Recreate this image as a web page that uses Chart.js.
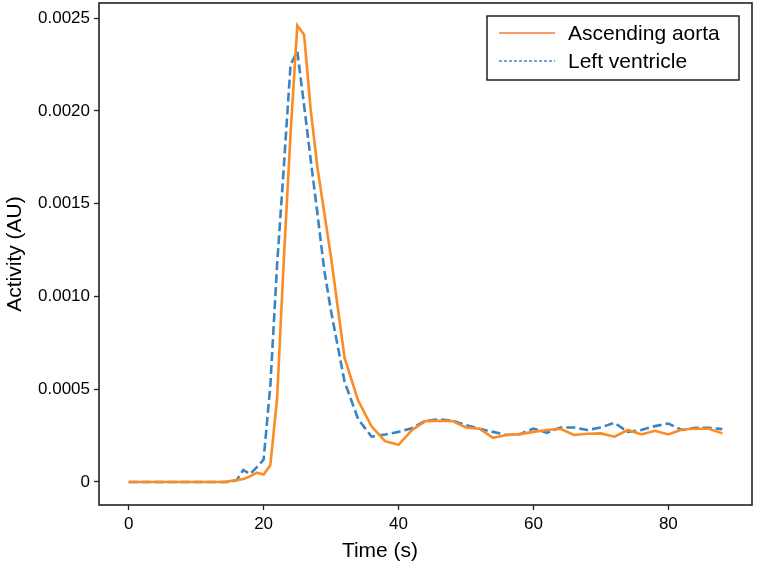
<!DOCTYPE html>
<html>
<head>
<meta charset="utf-8">
<script src="https://cdn.jsdelivr.net/npm/chart.js@4/dist/chart.umd.min.js"></script>
<style>
  html, body { margin: 0; padding: 0; background: #ffffff; }
  #wrap { width: 757px; height: 570px; position: relative; }
</style>
</head>
<body>
<div id="wrap"><canvas id="c" width="757" height="570"></canvas></div>
<script>
// ---- data ----
const times = [0, 1, 2, 3, 4, 5, 6, 7, 8, 9, 10, 11, 12, 13, 14, 15, 16, 17, 18, 19, 20,
  21, 22, 23, 24, 25, 26, 27, 28, 29, 30, 32, 34, 36, 38, 40, 42, 44, 46, 48, 50,
  52, 54, 56, 58, 60, 62, 64, 66, 68, 70, 72, 74, 76, 78, 80, 82, 84, 86, 88];

const ascendingAorta = [0, 0, 0, 0, 0, 0, 0, 0, 0, 0, 0, 0, 0, 0, 0, 0.000005, 0.00001, 0.000016, 0.00003, 0.00005, 0.00004,
  0.00009, 0.00045, 0.00120, 0.00188, 0.00246, 0.00241, 0.00200, 0.00169, 0.00145, 0.00121, 0.00067, 0.00044, 0.00030, 0.00022, 0.00020, 0.00028, 0.000328, 0.00033, 0.000328, 0.000294,
  0.000287, 0.000238, 0.000253, 0.000258, 0.00027, 0.00028, 0.000287, 0.000253, 0.00026, 0.000262, 0.000244, 0.00028, 0.000256, 0.000276, 0.000256, 0.000283, 0.000287, 0.000287, 0.000262];

const leftVentricle = [0, 0, 0, 0, 0, 0, 0, 0, 0, 0, 0, 0, 0, 0, 0, 0, 0.00001, 0.000065, 0.000043, 0.00008, 0.00012,
  0.00052, 0.00117, 0.00170, 0.00225, 0.00232, 0.00203, 0.00173, 0.00144, 0.00114, 0.00092, 0.00054, 0.00034, 0.000244, 0.000256, 0.00027, 0.00029, 0.00033, 0.000337, 0.00033, 0.000306,
  0.000287, 0.00027, 0.000253, 0.000258, 0.000288, 0.000265, 0.000294, 0.000294, 0.00028, 0.000294, 0.000319, 0.00027, 0.00028, 0.000301, 0.000315, 0.00028, 0.000292, 0.000292, 0.000285];

const seriesNames = ['Ascending aorta', 'Left ventricle'];
const xTicks = [0, 20, 40, 60, 80];
const yTicks = [0, 0.0005, 0.0010, 0.0015, 0.0020, 0.0025];
const yTickLabels = ['0', '0.0005', '0.0010', '0.0015', '0.0020', '0.0025'];
const xTitle = 'Time (s)';
const yTitle = 'Activity (AU)';

// ---- style ----
const ORANGE = '#fb8c22';
const BLUE = '#3a84c4';
const LEG_ORANGE = '#f47a38';
const LEG_BLUE = '#4a7fdc';
const FONT = '"Liberation Sans", Arial, sans-serif';

const toPts = (arr) => times.map((t, i) => ({ x: t, y: arr[i] }));

const framePlugin = {
  id: 'frame',
  afterDraw(chart) {
    const { ctx, chartArea: a } = chart;
    ctx.save();
    ctx.strokeStyle = '#222';
    ctx.lineWidth = 1.6;
    ctx.strokeRect(a.left, a.top, a.right - a.left, a.bottom - a.top);

    // axis titles
    ctx.fillStyle = '#000';
    ctx.font = '21px ' + FONT;
    ctx.textAlign = 'center';
    ctx.textBaseline = 'middle';
    ctx.fillText(xTitle, 380, 551);
    ctx.save();
    ctx.translate(15, 254);
    ctx.rotate(-Math.PI / 2);
    ctx.fillText(yTitle, 0, 0);
    ctx.restore();

    // legend box
    const bx = 487, by = 16, bw = 252, bh = 64;
    ctx.fillStyle = '#fff';
    ctx.fillRect(bx, by, bw, bh);
    ctx.strokeStyle = '#111';
    ctx.lineWidth = 1.4;
    ctx.strokeRect(bx, by, bw, bh);
    const rows = [
      { y: 33, color: LEG_ORANGE, dash: [] },
      { y: 61, color: LEG_BLUE, dash: [3, 2] }
    ];
    rows.forEach((r, i) => {
      ctx.beginPath();
      ctx.setLineDash(r.dash);
      ctx.strokeStyle = r.color;
      ctx.lineWidth = 1.6;
      ctx.moveTo(499, r.y);
      ctx.lineTo(555, r.y);
      ctx.stroke();
      ctx.setLineDash([]);
      ctx.fillStyle = '#000';
      ctx.font = '21px ' + FONT;
      ctx.textAlign = 'left';
      ctx.textBaseline = 'middle';
      ctx.fillText(chart.data.datasets[i].label, 568, r.y + 1);
    });
    ctx.restore();
  }
};

new Chart(document.getElementById('c'), {
  type: 'line',
  data: {
    datasets: [
      {
        label: seriesNames[0],
        data: toPts(ascendingAorta),
        borderColor: ORANGE,
        borderWidth: 2.6,
        pointRadius: 0,
        tension: 0,
        fill: false,
        order: 0
      },
      {
        label: seriesNames[1],
        data: toPts(leftVentricle),
        borderColor: BLUE,
        borderWidth: 2.6,
        borderDash: [9, 4],
        pointRadius: 0,
        tension: 0,
        fill: false,
        order: 1
      }
    ]
  },
  options: {
    responsive: false,
    animation: false,
    layout: { padding: { top: 3, right: 5, left: 0, bottom: 0 } },
    plugins: { legend: { display: false }, tooltip: { enabled: false } },
    scales: {
      x: {
        type: 'linear',
        min: -4.4,
        max: 92.4,
        afterBuildTicks: (s) => { s.ticks = xTicks.map(v => ({ value: v })); },
        afterFit: (s) => { s.height = 65; s.paddingLeft = 0; s.paddingRight = 0; },
        ticks: { color: '#000', font: { family: FONT, size: 17 }, padding: 4, maxRotation: 0,
          callback: (v) => String(v) },
        grid: { display: true, drawOnChartArea: false, tickLength: 5, tickColor: '#222', tickWidth: 1.3 },
        border: { display: false }
      },
      y: {
        type: 'linear',
        min: -0.000124,
        max: 0.002581,
        afterBuildTicks: (s) => { s.ticks = yTicks.map(v => ({ value: v })); },
        afterFit: (s) => { s.width = 99; s.paddingTop = 0; s.paddingBottom = 0; },
        ticks: { color: '#000', font: { family: FONT, size: 17 }, padding: 4,
          callback: (v) => { const i = yTicks.findIndex(t => Math.abs(t - v) < 1e-9); return i >= 0 ? yTickLabels[i] : ''; } },
        grid: { display: true, drawOnChartArea: false, tickLength: 5, tickColor: '#222', tickWidth: 1.3 },
        border: { display: false }
      }
    }
  },
  plugins: [framePlugin]
});
</script>
</body>
</html>
